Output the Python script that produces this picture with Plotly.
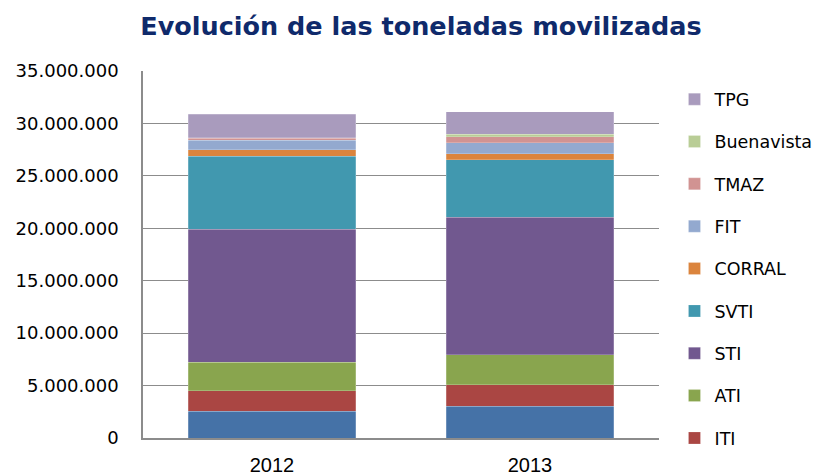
import plotly.graph_objects as go

years = ["2012", "2013"]
series_names = ["Otro", "ITI", "ATI", "STI", "SVTI", "CORRAL", "FIT", "TMAZ", "Buenavista", "TPG"]
otro = [2570000, 3010000]
iti = [1960000, 2090000]
ati = [2690000, 2860000]
sti = [12680000, 13110000]
svti = [6970000, 5480000]
corral = [630000, 570000]
fit = [920000, 1050000]
tmaz = [180000, 570000]
buenavista = [30000, 220000]
tpg = [2230000, 2150000]
values = [otro, iti, ati, sti, svti, corral, fit, tmaz, buenavista, tpg]
colors = ["#4572A7", "#AA4643", "#89A54E", "#71588F", "#4198AF",
          "#DB843D", "#93A9CF", "#D19392", "#B9CD96", "#A99BBD"]
y_ticks = [0, 5000000, 10000000, 15000000, 20000000, 25000000, 30000000, 35000000]

FONT = "DejaVu Sans"
# the page body has an 8px default margin; size the figure to fit the window
OFF = 8
W, H = 822 - OFF, 476 - OFF

fig = go.Figure()
n = len(series_names)
for i, (name, vals, col) in enumerate(zip(series_names, values, colors)):
    fig.add_trace(go.Bar(
        x=years, y=vals, name=name, marker_color=col,
        marker_line=dict(color="rgba(255,255,255,0.35)", width=0.6),
        legendgroup=name, legendrank=n - i, showlegend=(i != 0),
    ))

fig.update_layout(
    barmode="stack",
    bargap=0.35,
    width=W, height=H,
    margin=dict(l=143 - OFF, r=163, t=71 - OFF, b=38, autoexpand=False),
    paper_bgcolor="white", plot_bgcolor="white",
    separators=",.",
    title=dict(text="<b>Evolución de las toneladas movilizadas</b>",
               x=(421 - OFF) / W, xanchor="center", y=1 - (26 - OFF) / H, yanchor="middle",
               font=dict(family=FONT, size=25.5, color="#0F2A6B")),
    font=dict(family=FONT, size=18, color="#000000"),
    legend=dict(traceorder="grouped", tracegroupgap=16.6,
                x=1.03, xanchor="left", y=0.972, yanchor="top",
                font=dict(family=FONT, size=17.5, color="#000000"),
                itemwidth=30, bgcolor="rgba(0,0,0,0)", maxheight=460),
    showlegend=True,
)
fig.update_yaxes(range=[0, 35000000], tickvals=y_ticks, tickformat=",d",
                 showgrid=True, gridcolor="#8C8C8C", gridwidth=1,
                 showline=True, linecolor="#8C8C8C", linewidth=1.5,
                 zeroline=False, ticks="", ticklabelstandoff=19,
                 tickfont=dict(family=FONT, size=18))
fig.update_xaxes(showline=True, linecolor="#8C8C8C", linewidth=1.5,
                 ticks="outside", ticklen=8, tickcolor="rgba(0,0,0,0)",
                 tickfont=dict(family="Liberation Sans", size=20))

fig.write_html("out.html")
